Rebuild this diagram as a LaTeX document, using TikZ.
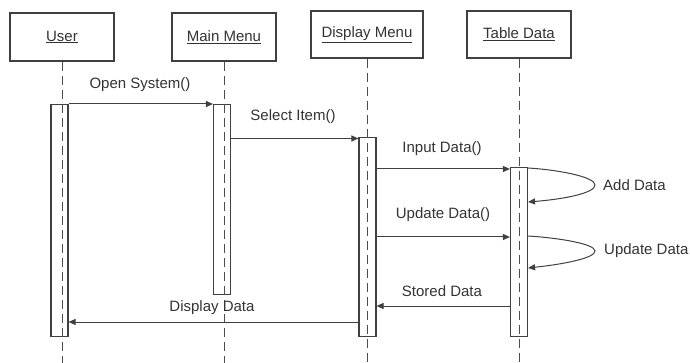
\documentclass[tikz,border=0pt]{standalone}
\usepackage{fontspec}
\setmainfont{Liberation Sans}
\usetikzlibrary{arrows.meta}

\begin{document}
\begin{tikzpicture}[x=1pt,y=-1pt]
              \tikzstyle{every node}+=[inner sep=0pt, font=\fontsize{15}{17}\selectfont, text=black!80]
              \tikzstyle{obj}=[draw=black!75, line width=1.3pt, minimum width=104pt, minimum height=48pt]
              \tikzstyle{bar}=[draw=black!75, fill=white, line width=1.1pt, minimum width=17pt, anchor=north]
              \tikzstyle{life}=[draw=black!70, line width=1pt, dash pattern=on 9pt off 5pt]
              \tikzstyle{msg}=[draw=black!75, line width=1pt, -{Triangle[length=7pt,width=6pt]}]
              \useasboundingbox (0,0) rectangle (690,363);
              % objects
              \node [obj] (user) at (62,37) {\underline{User}};
              \node [obj] (main) at (224,37) {\underline{Main Menu}};
              \node [obj, minimum width=112pt, minimum height=47pt] (disp) at (367,34.5) {\underline{Display Menu}};
              \node [obj, minimum height=47pt] (table) at (519,34.5) {\underline{Table Data}};
              % activation bars
              \node [bar, minimum height=232pt] (userbar) at (59.5,104) {};
              \node [bar, minimum height=190pt] (mainbar) at (222,104) {};
              \node [bar, minimum height=199pt] (dispbar) at (367.5,137) {};
              \node [bar, minimum height=169pt] (tablebar) at (519,167) {};
              % lifelines
              \coordinate (floor) at (0,363);
              \draw [life] (user.south) -- (user.south |- floor);
              \draw [life] (main.south) -- (main.south |- floor);
              \draw [life] (disp.south) -- (disp.south |- floor);
              \draw [life] (table.south) -- (table.south |- floor);
              % message levels
              \coordinate (m1) at (0,104);
              \coordinate (m2) at (0,138.5);
              \coordinate (m3) at (0,169);
              \coordinate (m4a) at (0,168);
              \coordinate (m4b) at (0,202);
              \coordinate (m5) at (0,237);
              \coordinate (m6a) at (0,236);
              \coordinate (m6b) at (0,268);
              \coordinate (m7) at (0,306);
              \coordinate (m8) at (0,322);
              % messages
              \draw [msg] (userbar.east |- m1) -- (mainbar.west |- m1);
              \node (open) at (140,85) {Open System()};
              \draw [msg] (mainbar.east |- m2) -- (dispbar.west |- m2);
              \node (select) at (293,117) {Select Item()};
              \draw [msg] (dispbar.east |- m3) -- (tablebar.west |- m3);
              \node (input) at (442,149) {Input Data()};
              \draw [msg] (tablebar.east |- m4a) .. controls (560,170) and (595,177) .. (595,185)
                          .. controls (595,193) and (565,199) .. (tablebar.east |- m4b);
              \node [anchor=west] (add) at (603,185) {Add Data};
              \draw [msg] (dispbar.east |- m5) -- (tablebar.west |- m5);
              \node (update) at (443,215) {Update Data()};
              \draw [msg] (tablebar.east |- m6a) .. controls (560,238) and (595,244) .. (595,251)
                          .. controls (595,258) and (565,264) .. (tablebar.east |- m6b);
              \node [anchor=west] (upd) at (604,251) {Update Data};
              \draw [msg] (tablebar.west |- m7) -- (dispbar.east |- m7);
              \node (stored) at (442,291) {Stored Data};
              \draw [msg] (dispbar.west |- m8) -- (userbar.east |- m8);
              \node (display) at (212,308) {Display Data};
            \end{tikzpicture}
\end{document}
